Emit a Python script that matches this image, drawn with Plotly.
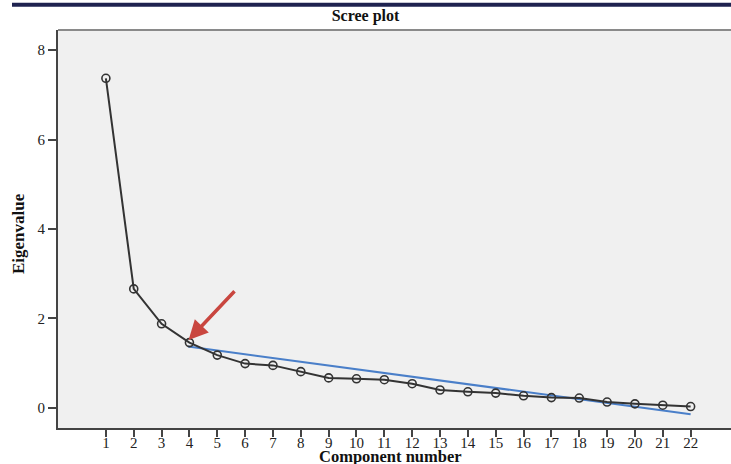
import plotly.graph_objects as go

components = list(range(1, 23))
eigenvalues = [7.37, 2.66, 1.88, 1.46, 1.18, 0.99, 0.95, 0.81, 0.67, 0.65, 0.63,
               0.54, 0.40, 0.36, 0.33, 0.27, 0.23, 0.22, 0.13, 0.09, 0.06, 0.03]
fit_x = [3.95, 22]
fit_y = [1.37, -0.14]
arrow_tail = (5.67, 2.64)
arrow_head = (3.97, 1.52)

serif = "Liberation Serif"
H = 464
PLOT_TOP, PLOT_BOT = 30, 428
PH = PLOT_BOT - PLOT_TOP


def py(pix):
    return (PLOT_BOT - pix) / PH


fig = go.Figure()
fig.add_trace(go.Scatter(x=fit_x, y=fit_y, mode="lines",
                         line=dict(color="#4a7fc9", width=2), hoverinfo="skip"))
fig.add_trace(go.Scatter(x=components, y=eigenvalues, mode="lines+markers",
                         line=dict(color="#333333", width=2),
                         marker=dict(symbol="circle-open", size=8, color="#333333",
                                     line=dict(width=1.6))))

fig.add_annotation(x=arrow_head[0], y=arrow_head[1], ax=arrow_tail[0], ay=arrow_tail[1],
                   xref="x", yref="y", axref="x", ayref="y", text="",
                   showarrow=True, arrowhead=2, arrowsize=1.1, arrowwidth=3.5,
                   arrowcolor="#c9463f")

fig.add_annotation(text="<b>Eigenvalue</b>", xref="paper", yref="paper",
                   x=(18 - 58) / 673, y=py(234), textangle=-90, showarrow=False,
                   font=dict(family=serif, size=17, color="#111"),
                   xanchor="center", yanchor="middle")
fig.add_annotation(text="<b>Component number</b>", xref="paper", yref="paper",
                   x=(390 - 58) / 673, y=py(456), showarrow=False,
                   font=dict(family=serif, size=16.5, color="#111"),
                   xanchor="center", yanchor="middle")

fig.update_layout(
    width=731, height=H,
    margin=dict(l=58, r=0, t=PLOT_TOP, b=H - PLOT_BOT, autoexpand=False),
    paper_bgcolor="white", plot_bgcolor="#f0f0f0",
    showlegend=False,
    title=dict(text="<b>Scree plot</b>", x=0.5, xref="container", xanchor="center",
               y=1 - 15 / H, yref="container", yanchor="middle",
               font=dict(family=serif, size=16, color="#111")),
    font=dict(family=serif, size=15, color="#222"),
    shapes=[
        dict(type="line", xref="paper", yref="paper", x0=0, x1=1, y0=1, y1=1,
             line=dict(color="#8a8a8a", width=2)),
        dict(type="rect", xref="paper", yref="paper", x0=(12 - 58) / 673, x1=1.0,
             y0=py(6.7), y1=py(2.7), line=dict(width=0), fillcolor="#1f2350"),
    ],
)

fig.update_xaxes(range=[-0.72, 23.45], tickmode="array", tickvals=components,
                 ticktext=[str(c) for c in components], automargin=False,
                 showline=True, linecolor="#444", linewidth=2,
                 ticks="outside", ticklen=7, tickwidth=1.5, tickcolor="#444",
                 ticklabelstandoff=-7,
                 showgrid=False, zeroline=False)
fig.update_yaxes(range=[-0.45, 8.45], tickvals=[0, 2, 4, 6, 8], automargin=False,
                 showline=True, linecolor="#444", linewidth=2,
                 ticks="outside", ticklen=8, tickwidth=1.5, tickcolor="#444",
                 showgrid=False, zeroline=False)

fig.write_html("out.html", config={"displayModeBar": False},
               post_script="document.body.style.margin='0px';document.body.style.overflow='hidden';")
